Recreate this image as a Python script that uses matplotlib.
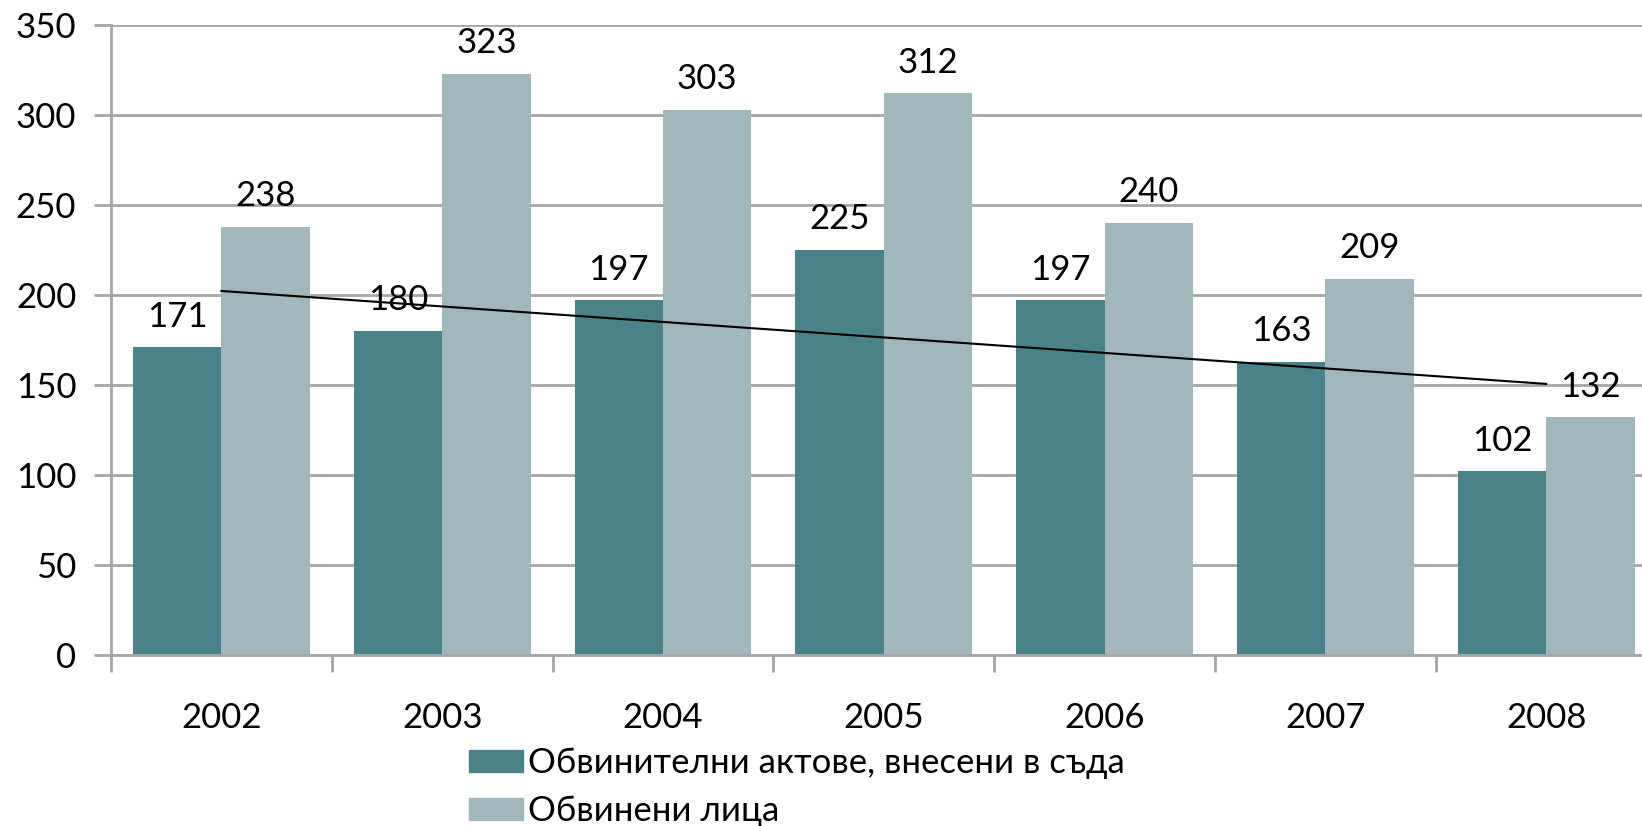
import numpy as np
import matplotlib
matplotlib.use("Agg")
import matplotlib.pyplot as plt
from matplotlib.patches import Patch

plt.rcParams['font.family'] = ['Lato', 'Open Sans', 'DejaVu Sans']

years = ["2002", "2003", "2004", "2005", "2006", "2007", "2008"]
acts = [171, 180, 197, 225, 197, 163, 102]
accused = [238, 323, 303, 312, 240, 209, 132]
labels = ["Обвинителни актове, внесени в съда", "Обвинени лица"]

dark = "#4a8289"
light = "#a1b7bb"
grid_c = "#a6a6a6"
fs = 25

fig = plt.figure(figsize=(16.42, 8.26), dpi=100)
ax = fig.add_axes([111 / 1642, 1 - 655 / 826, 7 * 220.8 / 1642, 630 / 826])

x = np.arange(len(years))
w = 0.4
b1 = ax.bar(x - w / 2, acts, w, color=dark, zorder=2)
b2 = ax.bar(x + w / 2, accused, w, color=light, zorder=2)
ax.bar_label(b1, labels=[str(v) for v in acts], padding=10.5, fontsize=fs)
ax.bar_label(b2, labels=[str(v) for v in accused], padding=10.5, fontsize=fs)

# linear trend of the first series
k, c = np.polyfit(x, acts, 1)
ax.plot([x[0], x[-1]], [c, c + k * x[-1]], color="black", lw=1.5, zorder=3)

ax.set_xlim(-0.5, len(years) - 0.5)
ax.set_ylim(0, 350)
ax.set_yticks(range(0, 351, 50))
ax.yaxis.grid(True, color=grid_c, lw=2)
ax.set_axisbelow(True)

ax.set_xticks(np.arange(-0.5, len(years), 1.0))
ax.set_xticklabels([])
ax.set_xticks(x, minor=True)
ax.set_xticklabels(years, minor=True, fontsize=fs)
ax.tick_params(axis="x", which="major", length=12, width=2, color=grid_c)
ax.tick_params(axis="x", which="minor", length=0, pad=34)
ax.tick_params(axis="y", length=12, width=2, color=grid_c, labelsize=fs, pad=13)

for s in ["top", "right"]:
    ax.spines[s].set_visible(False)
for s in ["left", "bottom"]:
    ax.spines[s].set_color(grid_c)
    ax.spines[s].set_linewidth(2)

handles = [Patch(color=dark), Patch(color=light)]
fig.legend(handles, labels, loc="upper left", bbox_to_anchor=(469 / 1642, 1 - 747 / 826),
           frameon=False, fontsize=fs, handlelength=1.55, handleheight=0.6,
           handletextpad=0.15, labelspacing=0.46, borderpad=0, borderaxespad=0)

fig.savefig("out.png", dpi=100)
